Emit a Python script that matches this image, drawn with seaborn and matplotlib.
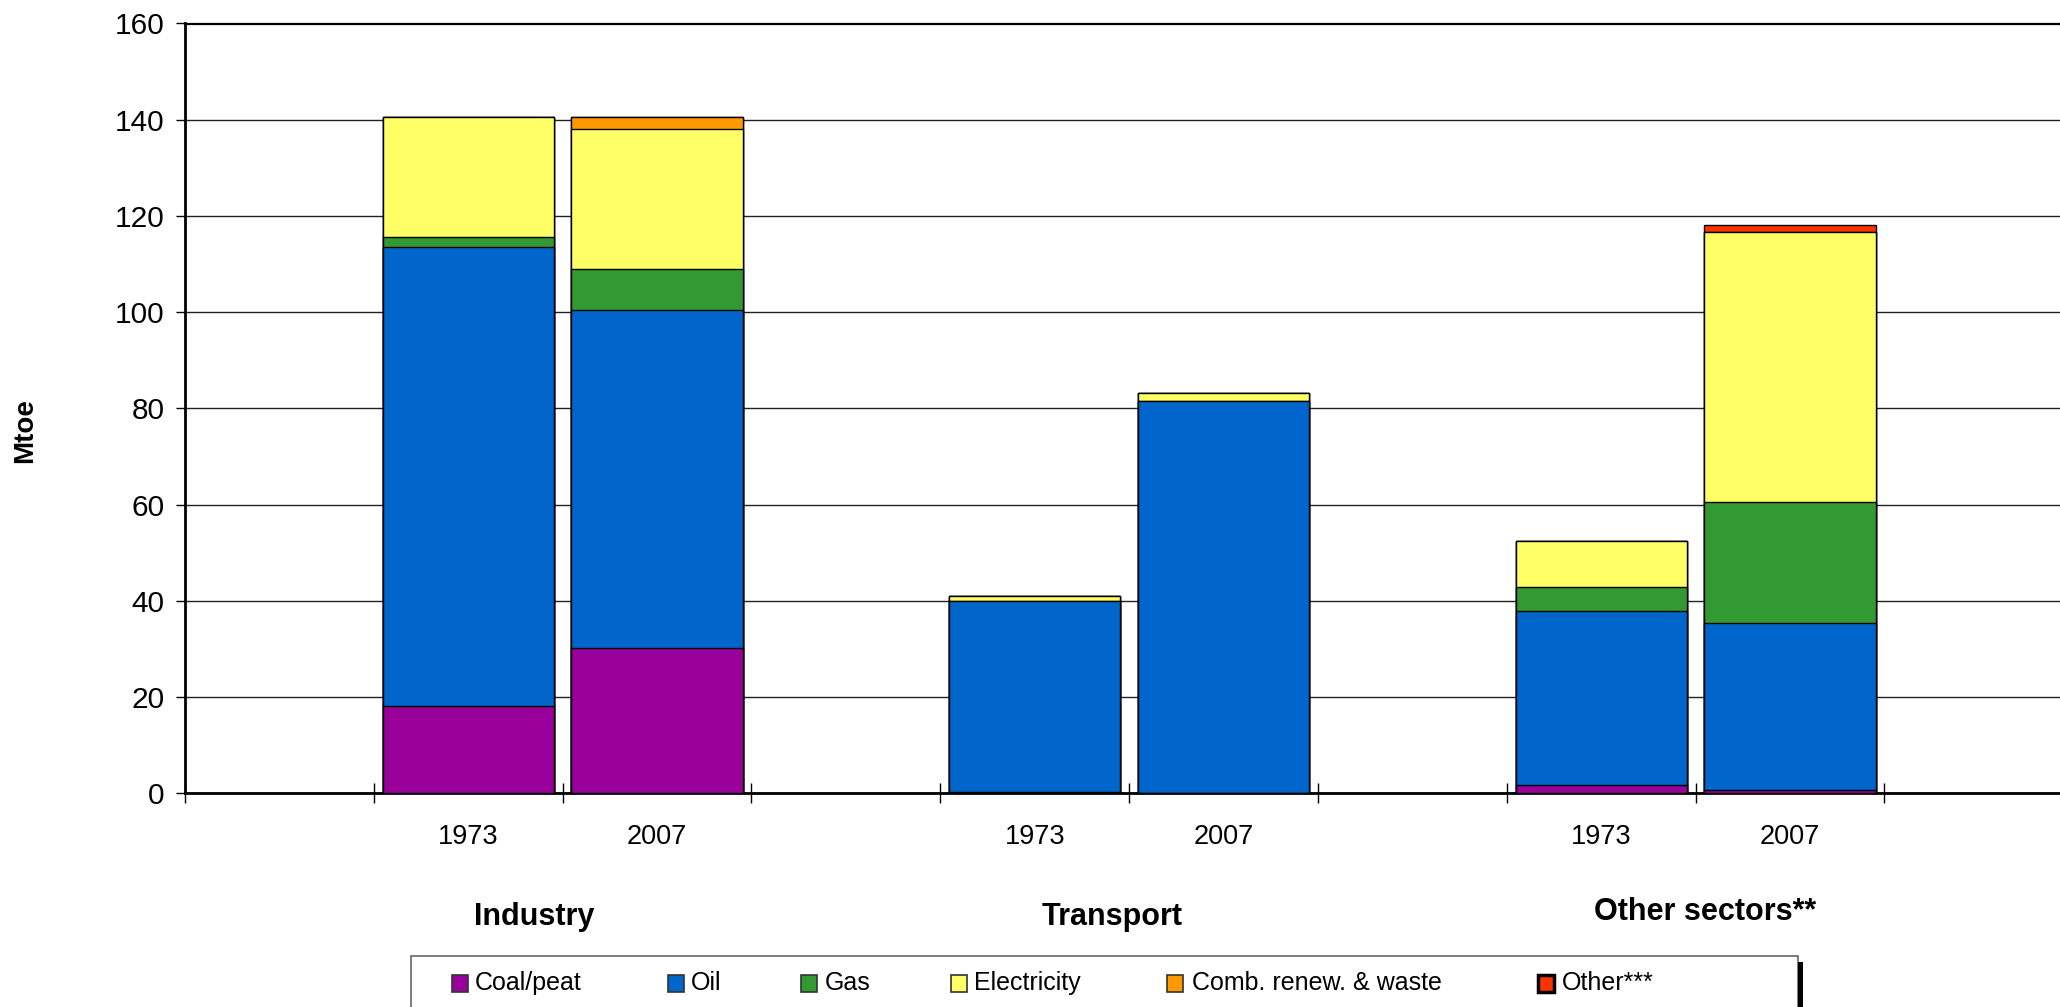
import numpy as np
import pandas as pd
import matplotlib
matplotlib.use('Agg')
import matplotlib.pyplot as plt
import matplotlib.transforms as mtransforms
from matplotlib.patches import Rectangle
import seaborn as sns

# chart data (Mtoe), one value per bar
sectors = ['Industry', 'Industry', 'Transport', 'Transport', 'Other sectors**', 'Other sectors**']
years = ['1973', '2007', '1973', '2007', '1973', '2007']
slots = [1, 2, 4, 5, 7, 8]   # bar position on the 10-slot category axis

coal = [18.1, 30.2, 0.3, 0.1, 1.7, 0.6]
oil = [95.5, 70.2, 39.7, 81.5, 36.2, 34.7]
gas = [2.0, 8.6, 0.0, 0.0, 4.9, 25.2]
elec = [24.9, 29.0, 1.1, 1.7, 9.6, 56.2]
comb = [0.0, 2.6, 0.0, 0.0, 0.0, 0.0]
other = [0.0, 0.0, 0.0, 0.0, 0.0, 1.4]

fuels = ['Coal/peat', 'Oil', 'Gas', 'Electricity', 'Comb. renew. & waste', 'Other***']
colours = ['#990099', '#0066CC', '#339933', '#FFFF66', '#FF9900', '#FF3300']

group_names = ['Industry', 'Transport', 'Other sectors**']
group_x = [1.35, 4.41, 7.55]

df = pd.DataFrame({'slot': slots, 'year': years, 'sector': sectors})
stack = np.cumsum(np.array([coal, oil, gas, elec, comb, other]), axis=0)
for name, row in zip(fuels, stack):
    df[name] = row

sns.set_style('white')
plt.rcParams['font.family'] = ['Liberation Sans', 'DejaVu Sans']
plt.rcParams['text.color'] = 'black'
plt.rcParams['xtick.color'] = 'black'
plt.rcParams['ytick.color'] = 'black'

W, H = 2060, 1007
fig = plt.figure(figsize=(W / 100, H / 100), dpi=100)
ax = fig.add_axes([185 / W, 1 - 793.3 / H, 1 - 185 / W, (793.3 - 23.5) / H])

# stacked bars: draw cumulative totals from the top layer down
for name, col in reversed(list(zip(fuels, colours))):
    sns.barplot(data=df, x='slot', y=name, native_scale=True, color=col,
                saturation=1, width=0.907, errorbar=None, edgecolor='black',
                linewidth=1.0, ax=ax, zorder=3)

ax.set_xlim(-0.5, 9.43)
ax.set_ylim(0, 160)
ax.set_yticks(range(0, 161, 20))
ax.set_xlabel('')
ax.set_ylabel('')

ax.yaxis.grid(True, color='#222222', linewidth=1.0)
ax.set_axisbelow(True)

for side in ['left', 'bottom']:
    ax.spines[side].set_linewidth(2.0)
    ax.spines[side].set_color('black')
ax.spines['top'].set_linewidth(1.6)
ax.spines['top'].set_color('black')
ax.spines['right'].set_visible(False)

ax.tick_params(axis='y', which='major', direction='out', length=6.5, width=1,
               color='black', labelsize=21.5, pad=8, left=True)
ax.set_xticks(np.arange(-0.5, 9, 1))
ax.set_xticklabels([])
ax.tick_params(axis='x', which='major', direction='inout', length=14, width=1,
               color='black', bottom=True)
ax.set_xticks(slots, minor=True)
ax.set_xticklabels(years, minor=True)
ax.tick_params(axis='x', which='minor', length=0, labelsize=19.5, pad=22)

trans = mtransforms.blended_transform_factory(ax.transData, fig.transFigure)
for name, gx in zip(group_names, group_x):
    gy = 911.7 if name.startswith('Other') else 916.7
    ax.text(gx, 1 - gy / H, name, transform=trans, ha='center', va='center',
            fontsize=22, fontweight='bold')

fig.text(25 / W, 1 - 431 / H, 'Mtoe', rotation=90, ha='center', va='center',
         fontsize=20, fontweight='bold')

# legend drawn by hand to follow the original spacing
fig.patches.append(Rectangle((411 / W, 1 - 1015 / H), (1798 - 411) / W, (1015 - 956) / H,
                             transform=fig.transFigure, facecolor='white',
                             edgecolor='#666666', linewidth=1.2))
fig.patches.append(Rectangle((1798 / W, 1 - 1015 / H), 5 / W, (1015 - 962) / H,
                             transform=fig.transFigure, facecolor='black',
                             edgecolor='none'))
sq_x = [452, 668, 801, 951, 1167, 1538]
tx_x = [475, 691, 825, 974, 1192, 1562]
for i, (name, col) in enumerate(zip(fuels, colours)):
    last = i == len(fuels) - 1
    fig.patches.append(Rectangle((sq_x[i] / W, 1 - 991.5 / H), 16 / W, 17 / H,
                                 transform=fig.transFigure, facecolor=col,
                                 edgecolor='black' if last else '#333333',
                                 linewidth=2.5 if last else 1.2))
    fig.text(tx_x[i] / W, 1 - 983 / H, name, ha='left', va='center', fontsize=18)

fig.savefig('out.png', dpi=100)
